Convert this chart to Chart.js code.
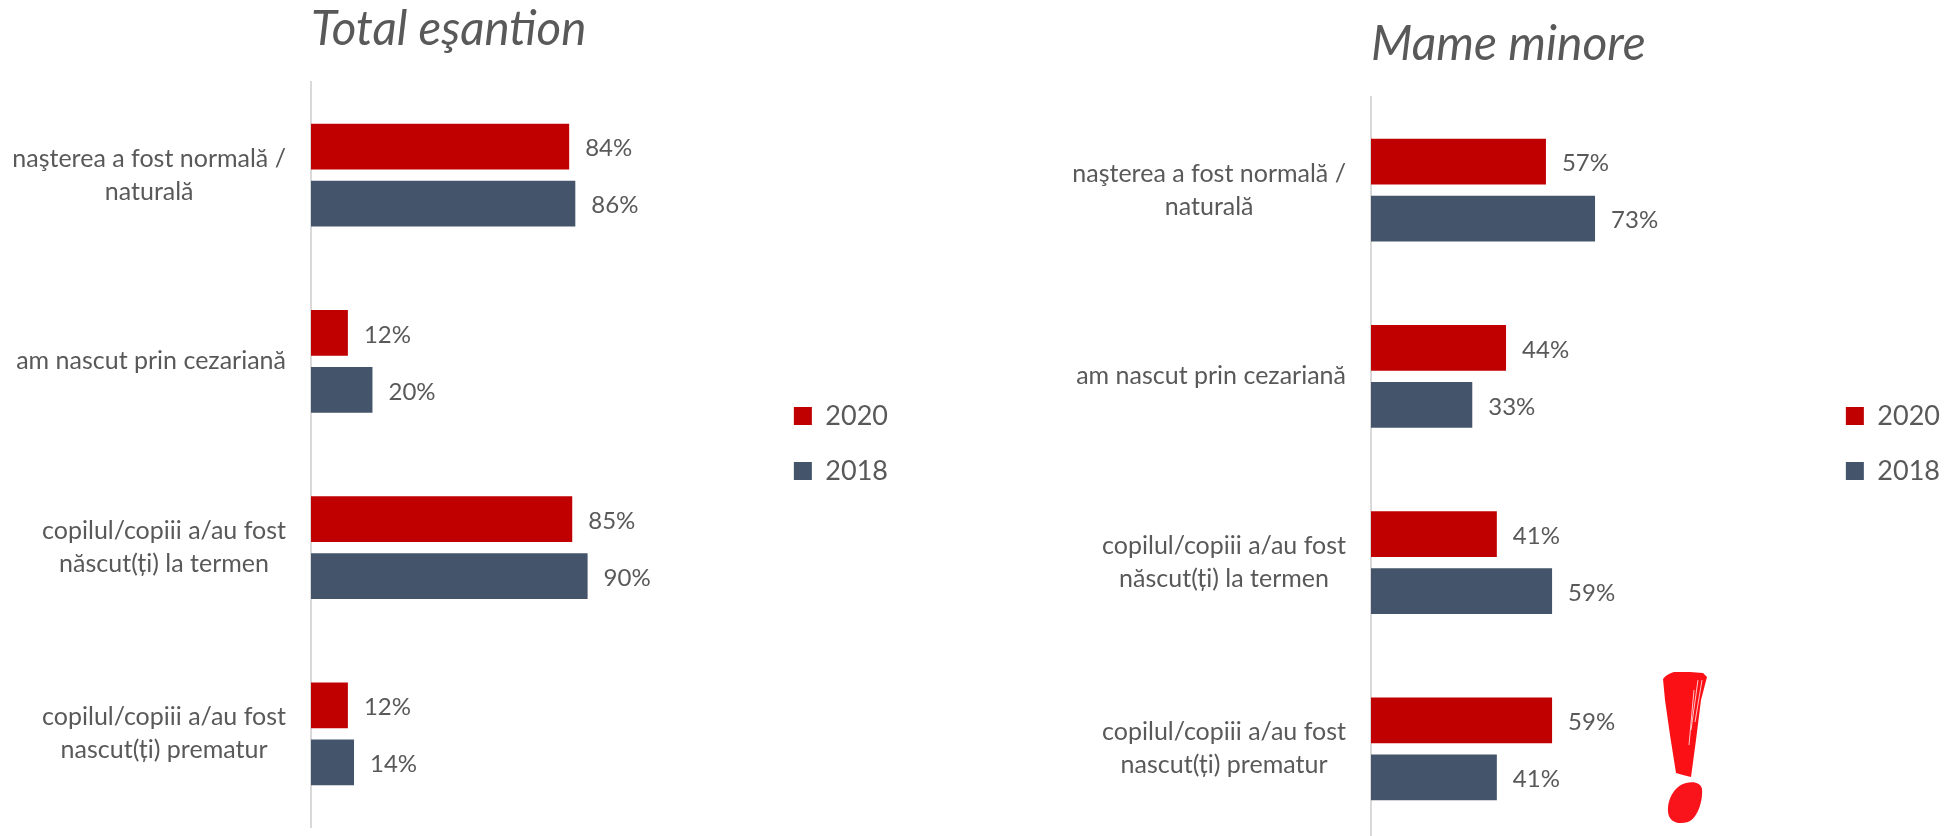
<!DOCTYPE html>
<html lang="ro">
<head>
<meta charset="utf-8">
<title>Naștere</title>
<script src="https://cdn.jsdelivr.net/npm/chart.js@4"></script>
<style>
  html, body { margin: 0; padding: 0; width: 1944px; height: 836px; overflow: hidden; background: #fff; }
  .box { position: absolute; top: 0; height: 887px; }
  #left { left: 0; width: 898px; }
  #right { left: 1060px; width: 890px; }
  #mark { position: absolute; left: 1660px; top: 668px; }
</style>
</head>
<body>
<div class="box" id="left"><canvas id="total"></canvas></div>
<div class="box" id="right"><canvas id="minore"></canvas></div>
<svg id="mark" width="52" height="160" viewBox="1660 668 52 160">
  <path fill="#fb1015" d="M1663 679 C1666 675 1670 673 1674 672 L1690 672 L1703 673 L1707 677 L1701 700 L1696 740 L1691 777 L1683 775 L1676 773 L1670 735 L1665 700 Z"/>
  <path fill="none" stroke="#ffc4c6" stroke-width="1" d="M1698 680 L1691 730 M1702 680 L1695 722 M1694 690 L1689 745"/>
  <path fill="#f8141a" d="M1668 812 C1667 800 1674 786 1686 783 C1694 781 1701 783 1702 789 C1703 800 1698 818 1688 822 C1678 825 1669 822 1668 812 Z"/>
</svg>
<script>
const FONT = "Lato, 'Noto Sans', sans-serif";
const TEXT = "#595959";
const RED = "#c00000";
const SLATE = "#44546a";

const categories = [
  ["naşterea a fost normală /", "naturală"],
  "am nascut prin cezariană",
  ["copilul/copiii a/au fost", "născut(ți) la termen"],
  ["copilul/copiii a/au fost", "nascut(ți) prematur"],
];
const seriesNames = ["2020", "2018"];
const total2020 = [84, 12, 85, 12];
const total2018 = [86, 20, 90, 14];
const minore2020 = [57, 44, 41, 59];
const minore2018 = [73, 33, 59, 41];

const LABEL_GAP = 25;

// Excel style value labels just past the end of each bar
const valueLabels = {
  id: "valueLabels",
  afterDatasetsDraw(chart) {
    const { ctx } = chart;
    ctx.save();
    ctx.font = `24px ${FONT}`;
    ctx.fillStyle = TEXT;
    ctx.textAlign = "left";
    ctx.textBaseline = "middle";
    chart.data.datasets.forEach((ds, i) => {
      chart.getDatasetMeta(i).data.forEach((bar, j) => {
        ctx.fillText(`${ds.data[j]}%`, bar.x + 16, bar.y + 2);
      });
    });
    ctx.restore();
  },
};

// each category block sits against the axis, its lines centred on the block's own width
const blockLabels = {
  id: "blockLabels",
  beforeDraw(chart) {
    const { ctx, scales: { y } } = chart;
    ctx.save();
    y.getLabelItems().forEach(item => {
      ctx.font = item.font.string;
      const lines = [].concat(item.label);
      const w = Math.max(...lines.map(l => ctx.measureText(l).width));
      item.options.translation[0] = y.right - LABEL_GAP - w / 2;
    });
    ctx.restore();
  },
};

function makeChart(canvasId, opts) {
  return new Chart(document.getElementById(canvasId), {
    type: "bar",
    plugins: [valueLabels, blockLabels],
    data: {
      labels: categories,
      datasets: [
        { label: seriesNames[0], data: opts.a, backgroundColor: RED },
        { label: seriesNames[1], data: opts.b, backgroundColor: SLATE },
      ],
    },
    options: {
      indexAxis: "y",
      animation: false,
      responsive: true,
      maintainAspectRatio: false,
      categoryPercentage: 0.614,
      barPercentage: 0.8,
      layout: { padding: 0, autoPadding: false },
      plugins: {
        tooltip: { enabled: false },
        title: {
          display: true,
          text: opts.title,
          align: "start",
          fullSize: false,
          color: TEXT,
          font: { family: FONT, size: opts.titleSize, style: "italic", weight: "normal", lineHeight: 1.2 },
          padding: opts.titlePadding,
        },
        legend: {
          position: "right",
          labels: {
            color: TEXT,
            boxWidth: 18,
            boxHeight: 18,
            padding: 28,
            font: { family: FONT, size: 27 },
          },
        },
      },
      scales: {
        x: {
          min: 0,
          max: opts.max,
          grid: { display: false },
          border: { display: false },
          ticks: { display: false },
          afterFit: s => { s.height = opts.bottomGap; },
        },
        y: {
          grid: { display: false, drawTicks: false },
          border: { color: "#d9d9d9", width: 2 },
          ticks: {
            color: TEXT,
            padding: LABEL_GAP,
            crossAlign: "center",
            autoSkip: false,
            font: { family: FONT, size: 25, lineHeight: 1.32 },
          },
          afterFit: s => {
            s.width = opts.axisX;
            // the two line tick labels would otherwise push the plot bottom up
            s.paddingTop = 0;
            s.paddingBottom = 0;
          },
        },
      },
    },
  });
}

makeChart("total", {
  title: "Total eşantion", a: total2020, b: total2018,
  axisX: 311, bottomGap: 60, max: 148, titleSize: 47.5,
  titlePadding: { top: 1, bottom: 24 },
});
makeChart("minore", {
  title: "Mame minore", a: minore2020, b: minore2018,
  axisX: 311, bottomGap: 45, max: 145.6, titleSize: 48,
  titlePadding: { top: 16, bottom: 23.4 },
});
</script>
</body>
</html>
